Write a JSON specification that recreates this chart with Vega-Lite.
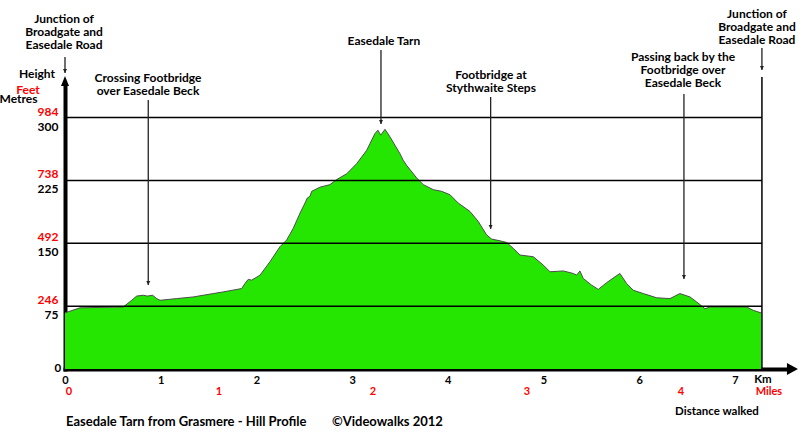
{
  "$schema": "https://vega.github.io/schema/vega-lite/v6.json",
  "width": 722,
  "height": 283,
  "autosize": {"type": "none"},
  "padding": {"left": 65, "top": 86, "right": 13, "bottom": 67},
  "background": "white",
  "config": {"view": {"stroke": null}},
  "datasets": {
    "profile": [
      {"km": 0, "m": 67}, {"km": 0.157, "m": 73}, {"km": 0.609, "m": 74}, {"km": 0.697, "m": 82},
      {"km": 0.749, "m": 87}, {"km": 0.818, "m": 88}, {"km": 0.86, "m": 87}, {"km": 0.916, "m": 88},
      {"km": 0.958, "m": 84}, {"km": 0.993, "m": 82}, {"km": 1.167, "m": 84}, {"km": 1.341, "m": 86},
      {"km": 1.55, "m": 90}, {"km": 1.654, "m": 92}, {"km": 1.846, "m": 96}, {"km": 1.881, "m": 102},
      {"km": 1.915, "m": 107}, {"km": 1.951, "m": 106}, {"km": 2.038, "m": 112}, {"km": 2.142, "m": 128},
      {"km": 2.247, "m": 146}, {"km": 2.317, "m": 154}, {"km": 2.386, "m": 168}, {"km": 2.456, "m": 186},
      {"km": 2.508, "m": 198}, {"km": 2.532, "m": 204}, {"km": 2.56, "m": 206}, {"km": 2.578, "m": 212},
      {"km": 2.665, "m": 217}, {"km": 2.769, "m": 220}, {"km": 2.839, "m": 226}, {"km": 2.944, "m": 233},
      {"km": 3.048, "m": 245}, {"km": 3.153, "m": 261}, {"km": 3.239, "m": 281}, {"km": 3.27, "m": 285},
      {"km": 3.299, "m": 279}, {"km": 3.344, "m": 286}, {"km": 3.396, "m": 277}, {"km": 3.5, "m": 257},
      {"km": 3.535, "m": 249}, {"km": 3.57, "m": 243}, {"km": 3.675, "m": 228}, {"km": 3.744, "m": 220},
      {"km": 3.849, "m": 214}, {"km": 3.936, "m": 212}, {"km": 4.023, "m": 208}, {"km": 4.11, "m": 198},
      {"km": 4.232, "m": 188}, {"km": 4.319, "m": 176}, {"km": 4.406, "m": 160}, {"km": 4.459, "m": 155},
      {"km": 4.545, "m": 153}, {"km": 4.615, "m": 151}, {"km": 4.684, "m": 144}, {"km": 4.754, "m": 136},
      {"km": 4.893, "m": 134}, {"km": 4.998, "m": 124}, {"km": 5.068, "m": 116}, {"km": 5.207, "m": 117},
      {"km": 5.311, "m": 114}, {"km": 5.347, "m": 112}, {"km": 5.381, "m": 117}, {"km": 5.416, "m": 108},
      {"km": 5.504, "m": 100}, {"km": 5.573, "m": 95}, {"km": 5.66, "m": 103}, {"km": 5.747, "m": 110},
      {"km": 5.799, "m": 114}, {"km": 5.869, "m": 102}, {"km": 5.938, "m": 94}, {"km": 6.043, "m": 90},
      {"km": 6.183, "m": 85}, {"km": 6.322, "m": 84}, {"km": 6.426, "m": 90}, {"km": 6.531, "m": 86},
      {"km": 6.601, "m": 80}, {"km": 6.688, "m": 72}, {"km": 6.74, "m": 74}, {"km": 7.123, "m": 74},
      {"km": 7.192, "m": 70}, {"km": 7.273, "m": 67}
    ],
    "grid": [
      {"km": 0, "km2": 7.283, "m": 75}, {"km": 0, "km2": 7.283, "m": 150},
      {"km": 0, "km2": 7.283, "m": 225}, {"km": 0, "km2": 7.283, "m": 300}
    ],
    "frame": [{"km": 7.283, "m": 348.4, "m2": 0}],
    "arrows": [
      {"km": 0, "m": 372.3, "m2": 353.2},
      {"km": 0.87, "m": 321, "m2": 100.2},
      {"km": 3.302, "m": 380.7, "m2": 292.4},
      {"km": 4.448, "m": 324.6, "m2": 167.1},
      {"km": 6.468, "m": 328.2, "m2": 107.4},
      {"km": 7.283, "m": 383, "m2": 356.8}
    ],
    "yaxisHead": [{"km": 0, "m": 343.7}],
    "xaxisHead": [{"km": 7.602, "m": 0}],
    "notes": [
      {"km": -0.01, "m": 423.6, "label": "Junction of\nBroadgate and\nEasedale Road"},
      {"km": 7.231, "m": 429.6, "label": "Junction of\nBroadgate and\nEasedale Road"},
      {"km": 0.867, "m": 353.2, "label": "Crossing Footbridge\nover Easedale Beck"},
      {"km": 3.333, "m": 397.4, "label": "Easedale Tarn"},
      {"km": 4.451, "m": 356.8, "label": "Footbridge at\nStythwaite Steps"},
      {"km": 6.458, "m": 378.3, "label": "Passing back by the\nFootbridge over\nEasedale Beck"},
      {"km": -0.293, "m": 358, "label": "Height"},
      {"km": -0.486, "m": 328.2, "label": "Metres"}
    ],
    "rednotes": [
      {"km": -0.387, "m": 338.9, "label": "Feet"}
    ],
    "metres": [
      {"km": -0.068, "m": 75, "label": "75"}, {"km": -0.068, "m": 150, "label": "150"},
      {"km": -0.068, "m": 225, "label": "225"}, {"km": -0.068, "m": 300, "label": "300"}
    ],
    "feet": [
      {"km": -0.068, "m": 75, "label": "246"}, {"km": -0.068, "m": 150, "label": "492"},
      {"km": -0.068, "m": 225, "label": "738"}, {"km": -0.068, "m": 300, "label": "984"}
    ],
    "miles": [
      {"km": 0.04, "m": -27.4, "label": "0"}, {"km": 1.609, "m": -27.4, "label": "1"},
      {"km": 3.219, "m": -27.4, "label": "2"}, {"km": 4.828, "m": -27.4, "label": "3"},
      {"km": 6.437, "m": -27.4, "label": "4"}, {"km": 7.356, "m": -27.4, "label": "Miles"}
    ],
    "misc": [
      {"km": -0.075, "m": 0, "label": "0"},
      {"km": 7.294, "m": -13.1, "label": "Km"},
      {"km": 6.813, "m": -51.3, "label": "Distance walked"}
    ],
    "titles": [
      {"km": 0.01, "m": -63.2, "label": "Easedale Tarn from Grasmere - Hill Profile"},
      {"km": 2.79, "m": -63.2, "label": "©Videowalks 2012"}
    ]
  },
  "encoding": {
    "x": {
      "field": "km", "type": "quantitative",
      "scale": {"domain": [0, 7.545], "nice": false, "zero": false},
      "axis": {
        "values": [0, 1, 2, 3, 4, 5, 6, 7], "grid": false, "ticks": false, "tickSize": 0,
        "labelPadding": 5, "labelFont": "Lato", "labelFontWeight": "bold", "labelFontSize": 11,
        "labelColor": "black", "domainColor": "black", "domainWidth": 4, "domainCap": "square",
        "title": null, "labelFlush": false
      }
    },
    "y": {
      "field": "m", "type": "quantitative",
      "scale": {"domain": [0, 337.7], "nice": false, "zero": false},
      "axis": {
        "labels": false, "grid": false, "ticks": false, "domainColor": "black",
        "domainWidth": 4, "domainCap": "square", "title": null
      }
    }
  },
  "layer": [
    {
      "data": {"name": "profile"},
      "mark": {"type": "area", "color": "#24E600", "opacity": 1, "fillOpacity": 1, "line": {"color": "#4d4d4d", "strokeWidth": 1}}
    },
    {
      "data": {"name": "grid"},
      "mark": {"type": "rule", "color": "black", "strokeWidth": 1.5},
      "encoding": {"x2": {"field": "km2"}}
    },
    {
      "data": {"name": "frame"},
      "mark": {"type": "rule", "color": "black", "strokeWidth": 1.5},
      "encoding": {"y2": {"field": "m2"}}
    },
    {
      "data": {"name": "arrows"},
      "mark": {"type": "rule", "color": "#222", "strokeWidth": 1.3},
      "encoding": {"y2": {"field": "m2"}}
    },
    {
      "data": {"name": "arrows"},
      "mark": {"type": "point", "shape": "M0,0L-1,-2L1,-2Z", "size": 16, "filled": true, "color": "#222", "opacity": 1},
      "encoding": {"y": {"field": "m2", "type": "quantitative"}}
    },
    {
      "data": {"name": "yaxisHead"},
      "mark": {"type": "point", "shape": "M0,-1L0.8,1L-0.8,1Z", "size": 100, "filled": true, "color": "black", "opacity": 1}
    },
    {
      "data": {"name": "xaxisHead"},
      "mark": {"type": "point", "shape": "M1,0L-1,-1.1L-1,1.1Z", "size": 121, "filled": true, "color": "black", "opacity": 1}
    },
    {
      "data": {"name": "notes"},
      "mark": {"type": "text", "font": "Lato", "fontWeight": "bold", "fontSize": 12, "align": "center", "baseline": "top", "lineBreak": "\n", "lineHeight": 13, "color": "black"},
      "encoding": {"text": {"field": "label"}}
    },
    {
      "data": {"name": "rednotes"},
      "mark": {"type": "text", "font": "Lato", "fontWeight": "bold", "fontSize": 12, "align": "center", "baseline": "top", "color": "#ff0000"},
      "encoding": {"text": {"field": "label"}}
    },
    {
      "data": {"name": "metres"},
      "mark": {"type": "text", "font": "Lato", "fontWeight": "bold", "fontSize": 12, "align": "right", "baseline": "top", "dy": 4, "color": "black"},
      "encoding": {"text": {"field": "label"}}
    },
    {
      "data": {"name": "feet"},
      "mark": {"type": "text", "font": "Lato", "fontWeight": "bold", "fontSize": 12, "align": "right", "baseline": "bottom", "dy": 1, "color": "#ff0000"},
      "encoding": {"text": {"field": "label"}}
    },
    {
      "data": {"name": "miles"},
      "mark": {"type": "text", "font": "Lato", "fontWeight": "bold", "fontSize": 11, "align": "center", "baseline": "middle", "color": "#ff0000"},
      "encoding": {"text": {"field": "label"}}
    },
    {
      "data": {"name": "misc"},
      "mark": {"type": "text", "font": "Lato", "fontWeight": "bold", "fontSize": 11.5, "align": "center", "baseline": "middle", "color": "black"},
      "encoding": {"text": {"field": "label"}}
    },
    {
      "data": {"name": "titles"},
      "mark": {"type": "text", "font": "Lato", "fontWeight": "bold", "fontSize": 13, "align": "left", "baseline": "middle", "color": "black"},
      "encoding": {"text": {"field": "label"}}
    }
  ]
}
